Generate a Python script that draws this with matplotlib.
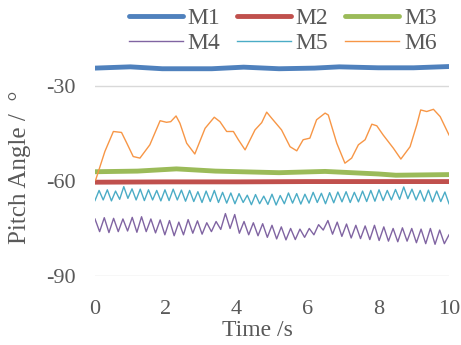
import matplotlib
matplotlib.use("Agg")
import matplotlib.pyplot as plt
import numpy as np

plt.rcParams["font.family"] = ["Liberation Serif", "DejaVu Serif"]
plt.rcParams["axes.unicode_minus"] = False

TEXT_COLOR = "#595959"
GRID_COLOR = "#d9d9d9"

# thick, slowly varying series
M1_T = [0.0, 1.0, 1.9, 3.3, 4.2, 5.2, 6.2, 6.9, 8.0, 9.0, 10.0]
M1_V = [-24.4, -24.0, -24.6, -24.6, -24.1, -24.6, -24.4, -24.0, -24.3, -24.3, -23.9]

M2_T = [0.0, 2.0, 4.0, 6.0, 8.0, 10.0]
M2_V = [-60.4, -60.3, -60.3, -60.2, -60.2, -60.2]

M3_T = [0.0, 1.2, 2.3, 3.4, 5.2, 6.5, 8.0, 8.5, 10.0]
M3_V = [-57.1, -56.9, -56.2, -56.9, -57.4, -57.0, -57.8, -58.2, -58.0]

# M4: peaks / troughs, evenly spaced over 0..10 s
M4_V = [
    -72.0, -76.0, -71.6, -76.3, -71.8, -76.0, -72.0, -75.8, -71.5, -76.2,
    -71.3, -76.0, -72.0, -76.4, -72.3, -77.0, -72.5, -77.3, -73.0, -77.0,
    -72.2, -76.5, -72.6, -76.8, -73.2, -76.0, -72.8, -75.3, -70.3, -75.0,
    -70.6, -76.5, -72.8, -77.0, -73.2, -77.3, -73.5, -77.8, -74.0, -78.3,
    -74.5, -78.6, -75.0, -78.5, -75.2, -77.8, -75.0, -77.0, -73.8, -75.5,
    -72.5, -76.8, -73.0, -77.5, -73.6, -78.0, -74.0, -78.2, -74.2, -78.5,
    -74.0, -78.8, -74.5, -79.0, -75.0, -79.2, -74.8, -79.0, -75.0, -79.5,
    -75.2, -79.8, -75.0, -80.0, -75.5, -79.8, -77.0,
]

# M5: troughs / peaks, evenly spaced over 0..10 s
M5_V = [
    -66.2, -63.0, -66.0, -62.8, -66.3, -63.2, -65.8, -61.8, -65.5, -62.5,
    -66.0, -62.6, -66.2, -62.8, -66.0, -63.0, -66.3, -62.8, -66.2, -62.6,
    -66.0, -62.9, -66.4, -63.0, -66.5, -63.4, -66.8, -63.2, -66.5, -63.0,
    -66.8, -63.6, -67.0, -63.8, -67.2, -64.0, -66.8, -64.5, -67.5, -64.3,
    -67.2, -64.8, -67.4, -64.2, -67.6, -64.6, -67.2, -63.8, -67.0, -64.0,
    -67.3, -64.2, -67.0, -63.6, -66.8, -63.9, -67.2, -63.7, -66.9, -63.5,
    -66.6, -63.4, -66.8, -63.6, -66.6, -63.2, -66.5, -63.0, -66.4, -62.8,
    -66.2, -63.0, -66.0, -62.7, -65.8, -61.9, -65.6, -62.6, -66.0, -63.0,
    -66.4, -62.9, -66.6, -63.2, -66.5, -63.5, -67.2,
]

M6_T = [
    0.02, 0.28, 0.52, 0.75, 0.90, 1.08, 1.27, 1.55, 1.84, 2.02,
    2.14, 2.29, 2.40, 2.59, 2.82, 3.11, 3.37, 3.53, 3.72, 3.91,
    4.05, 4.24, 4.52, 4.71, 4.85, 4.99, 5.27, 5.51, 5.70, 5.88,
    6.07, 6.26, 6.50, 6.59, 6.83, 7.06, 7.25, 7.44, 7.63, 7.82,
    7.96, 8.14, 8.43, 8.64, 8.90, 9.09, 9.20, 9.37, 9.56, 9.75,
    10.0,
]
M6_V = [
    -59.7, -50.7, -44.4, -44.7, -48.1, -52.3, -52.8, -48.6, -41.0, -41.5,
    -41.3, -39.5, -41.8, -48.1, -51.5, -43.4, -39.9, -41.3, -44.4, -44.4,
    -47.0, -50.2, -43.9, -41.6, -38.3, -40.2, -43.9, -49.2, -50.5, -47.0,
    -46.5, -40.7, -38.6, -39.2, -48.1, -54.4, -52.8, -48.6, -47.0, -42.1,
    -42.6, -45.5, -49.7, -53.1, -49.2, -42.3, -37.6, -38.1, -37.4, -39.7,
    -45.5,
]

COLORS = ["#4f81bd", "#c0504d", "#9bbb59", "#8064a2", "#4bacc6", "#f79646"]
X_TICKS = [0, 2, 4, 6, 8, 10]
Y_TICKS = [-90, -60, -30]


def main() -> None:
    fig = plt.figure(figsize=(4.61, 3.45), dpi=100)
    ax = fig.add_axes([0.206, 0.2, 0.768, 0.643])

    m4_t = np.linspace(0, 10, len(M4_V))
    m5_t = np.linspace(0, 10, len(M5_V))

    thick = 3.5
    thin = 1.0
    lines = []
    lines += ax.plot(M1_T, M1_V, color=COLORS[0], lw=thick, solid_capstyle="round", label="M1")
    lines += ax.plot(M2_T, M2_V, color=COLORS[1], lw=thick, solid_capstyle="round", label="M2")
    lines += ax.plot(M3_T, M3_V, color=COLORS[2], lw=thick, solid_capstyle="round", label="M3")
    lines += ax.plot(m4_t, M4_V, color=COLORS[3], lw=thin, label="M4")
    lines += ax.plot(m5_t, M5_V, color=COLORS[4], lw=thin, label="M5")
    lines += ax.plot(M6_T, M6_V, color=COLORS[5], lw=thin, label="M6")

    ax.set_xlim(0, 10)
    ax.set_ylim(-90, -20)
    ax.set_xticks(X_TICKS)
    ax.set_yticks(Y_TICKS)
    ax.grid(axis="y", color=GRID_COLOR, lw=1.0, zorder=0)
    ax.set_axisbelow(True)
    for side in ["top", "right", "left", "bottom"]:
        ax.spines[side].set_visible(False)
    ax.tick_params(axis="both", length=0, labelsize=16, colors=TEXT_COLOR)
    ax.tick_params(axis="x", pad=17)
    ax.tick_params(axis="y", pad=14)

    fig.text(257 / 461, 1 - 331 / 345, "Time /s", ha="center", va="center",
             fontsize=17, color=TEXT_COLOR)
    fig.text(20 / 461, 1 - 167 / 345, "Pitch Angle /  °", ha="center", va="center",
             rotation=90, fontsize=18, color=TEXT_COLOR)

    # legend is filled row by row: M1 M2 M3 / M4 M5 M6
    order = [0, 3, 1, 4, 2, 5]
    leg = fig.legend(
        [lines[i] for i in order],
        [lines[i].get_label() for i in order],
        loc="center",
        bbox_to_anchor=(0.613, 0.911),
        ncol=3,
        frameon=False,
        fontsize=17,
        handlelength=2.3,
        handletextpad=0.2,
        columnspacing=0.7,
        labelspacing=0.16,
        borderpad=0.0,
    )
    for text in leg.get_texts():
        text.set_color(TEXT_COLOR)

    fig.savefig("out.png", dpi=100)
    plt.close(fig)


if __name__ == "__main__":
    main()
